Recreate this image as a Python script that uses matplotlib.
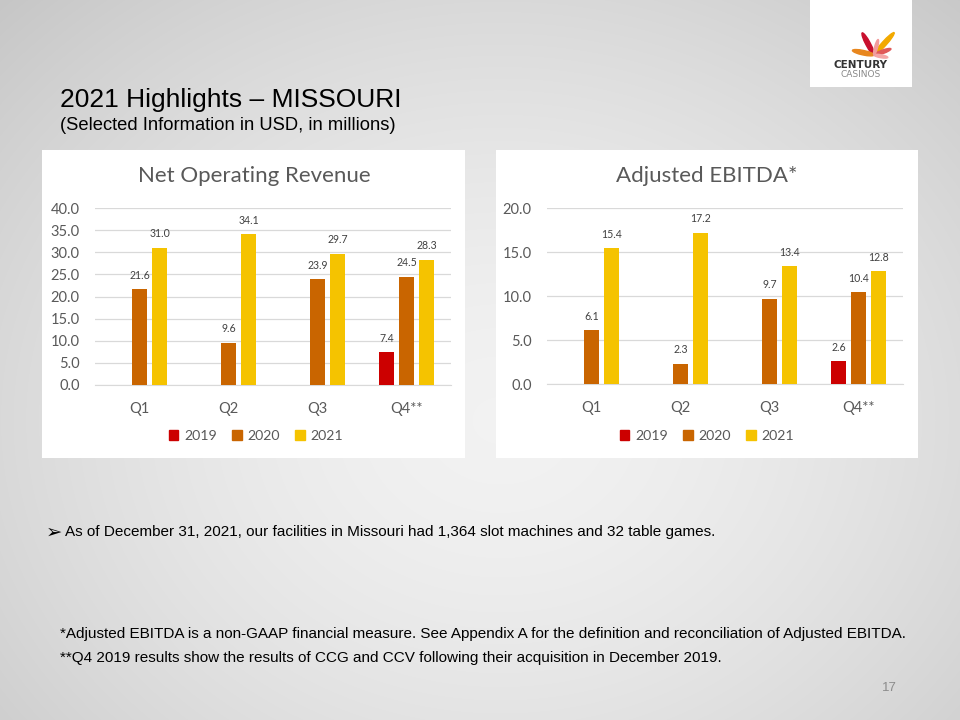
import numpy as np
import matplotlib
matplotlib.use("Agg")
import matplotlib.pyplot as plt
from matplotlib.patches import Rectangle, Ellipse

# ---------------- data ----------------
quarters = ["Q1", "Q2", "Q3", "Q4**"]
years = ["2019", "2020", "2021"]
rev_2019 = [None, None, None, 7.4]
rev_2020 = [21.6, 9.6, 23.9, 24.5]
rev_2021 = [31.0, 34.1, 29.7, 28.3]
ebitda_2019 = [None, None, None, 2.6]
ebitda_2020 = [6.1, 2.3, 9.7, 10.4]
ebitda_2021 = [15.4, 17.2, 13.4, 12.8]
rev_ticks = [0, 5, 10, 15, 20, 25, 30, 35, 40]
ebitda_ticks = [0, 5, 10, 15, 20]

colors = ["#CC0000", "#C96500", "#F5C300"]
W, H = 960, 720

fig = plt.figure(figsize=(9.6, 7.2), dpi=100)

# background gradient
bg = fig.add_axes([0, 0, 1, 1], zorder=-10)
yy, xx = np.mgrid[0:H, 0:W]
d = np.sqrt(((xx - 500) / 620.0) ** 2 + ((yy - 420) / 520.0) ** 2)
val = 0.95 - 0.14 * np.clip(d, 0, 1.3) ** 1.6
bg.imshow(np.dstack([val, val, val]), extent=[0, W, H, 0], aspect="auto")
bg.set_xlim(0, W); bg.set_ylim(H, 0); bg.axis("off")

def fx(px):
    return px / W

def fy(py):
    return 1 - py / H

def panel(x0, y0, x1, y1):
    fig.patches.append(Rectangle((fx(x0), fy(y1)), fx(x1 - x0), (y1 - y0) / H,
                                 transform=fig.transFigure, facecolor="white",
                                 edgecolor="none", zorder=0))

chart_font = ["Lato", "DejaVu Sans"]
body_font = ["Liberation Sans", "DejaVu Sans"]

def bar_chart(ax_rect, title, title_x, s19, s20, s21, ticks, legend_x):
    ax = fig.add_axes(ax_rect, zorder=3)
    x = np.arange(len(quarters))
    w = 0.17
    step = 0.225
    for off, data, c in zip([-step, 0, step], [s19, s20, s21], colors):
        xs = [xi + off for xi, v in zip(x, data) if v is not None]
        vs = [v for v in data if v is not None]
        bars = ax.bar(xs, vs, width=w, color=c, zorder=3)
        for b, v in zip(bars, vs):
            ax.annotate(f"{v:.1f}", (b.get_x() + b.get_width() / 2, v),
                        xytext=(0, 6), textcoords="offset points",
                        ha="center", va="bottom", fontsize=7.6, color="#404040",
                        family=chart_font)
    ax.set_xlim(-0.5, len(quarters) - 0.5)
    ax.set_ylim(ticks[0], ticks[-1])
    ax.set_yticks(ticks)
    ax.set_yticklabels([f"{t:.1f}" for t in ticks])
    ax.set_xticks(x)
    ax.set_xticklabels(quarters)
    ax.grid(axis="y", color="#D9D9D9", linewidth=0.9, zorder=0)
    for s in ["top", "right", "left"]:
        ax.spines[s].set_visible(False)
    ax.spines["bottom"].set_color("#D9D9D9")
    ax.tick_params(axis="both", length=0, labelsize=10.5, colors="#595959")
    ax.tick_params(axis="x", pad=12)
    ax.tick_params(axis="y", pad=11)
    for lab in ax.get_xticklabels() + ax.get_yticklabels():
        lab.set_family(chart_font)
    ax.set_facecolor("none")
    fig.text(title_x, fy(176), title, ha="center", va="center", fontsize=16,
             color="#595959", family=chart_font, zorder=4)
    handles = [Rectangle((0, 0), 1, 1, color=c) for c in colors]
    leg = ax.legend(handles, years, loc="center", bbox_to_anchor=(legend_x, fy(436)),
                    bbox_transform=fig.transFigure, ncol=3, frameon=False,
                    handlelength=0.65, handleheight=0.65, handletextpad=0.4,
                    columnspacing=1.1, prop={"family": chart_font, "size": 10.2})
    for t in leg.get_texts():
        t.set_color("#595959")
    return ax

panel(42, 150, 465, 458)
panel(496, 150, 918, 458)

bar_chart([fx(95), fy(385), fx(451 - 95), (385 - 208) / H], "Net Operating Revenue",
          fx(254), rev_2019, rev_2020, rev_2021, rev_ticks, fx(256))
bar_chart([fx(547), fy(384), fx(903 - 547), (384 - 208) / H], "Adjusted EBITDA*",
          fx(707), ebitda_2019, ebitda_2020, ebitda_2021, ebitda_ticks, fx(707))

# header text
fig.text(fx(60), fy(100), "2021 Highlights – MISSOURI", fontsize=19, color="black",
         family=body_font, va="center", ha="left")
fig.text(fx(60), fy(126), "(Selected Information in USD, in millions)", fontsize=13.2,
         color="black", family=body_font, va="center", ha="left")

fig.text(fx(46), fy(532), "➢", fontsize=14, color="black",
         family=["DejaVu Sans"], va="center", ha="left")
fig.text(fx(65), fy(532),
         "As of December 31, 2021, our facilities in Missouri had 1,364 slot machines and 32 table games.",
         fontsize=11, color="black", family=body_font, va="center", ha="left")
fig.text(fx(60), fy(634),
         "*Adjusted EBITDA is a non-GAAP financial measure. See Appendix A for the definition and reconciliation of Adjusted EBITDA.",
         fontsize=11, color="black", family=body_font, va="center", ha="left")
fig.text(fx(60), fy(658),
         "**Q4 2019 results show the results of CCG and CCV following their acquisition in December 2019.",
         fontsize=11, color="black", family=body_font, va="center", ha="left")
fig.text(fx(889), fy(688), "17", fontsize=9.5, color="#8C8C8C", family=body_font,
         va="center", ha="center")

# logo
fig.patches.append(Rectangle((fx(810), fy(87)), fx(102), 87 / H, transform=fig.transFigure,
                             facecolor="white", edgecolor="none", zorder=1))
lg = fig.add_axes([fx(810), fy(87), fx(102), 87 / H], zorder=2)
lg.set_xlim(810, 912); lg.set_ylim(87, 0); lg.axis("off")
cx, cy = 874, 55
for ang, length, c, wdt in [(-48, 30, "#F2A900", 4.5), (-118, 25, "#C8102E", 4.5),
                             (-168, 22, "#E8871E", 4.5), (-20, 18, "#E05A5A", 3.5),
                             (10, 14, "#F4A6A6", 3), (-75, 16, "#F29C9C", 3)]:
    a = np.deg2rad(ang)
    lg.add_patch(Ellipse((cx + np.cos(a) * length / 2, cy + np.sin(a) * length / 2),
                         length, wdt, angle=ang, color=c))
lg.text(861, 64.5, "CENTURY", ha="center", va="center", fontsize=7.5, fontweight="bold",
        color="#333333", family=["DejaVu Sans"])
lg.text(861, 74.5, "CASINOS", ha="center", va="center", fontsize=6.5, color="#888888",
        family=["DejaVu Sans"])

fig.savefig("out.png", dpi=100)
